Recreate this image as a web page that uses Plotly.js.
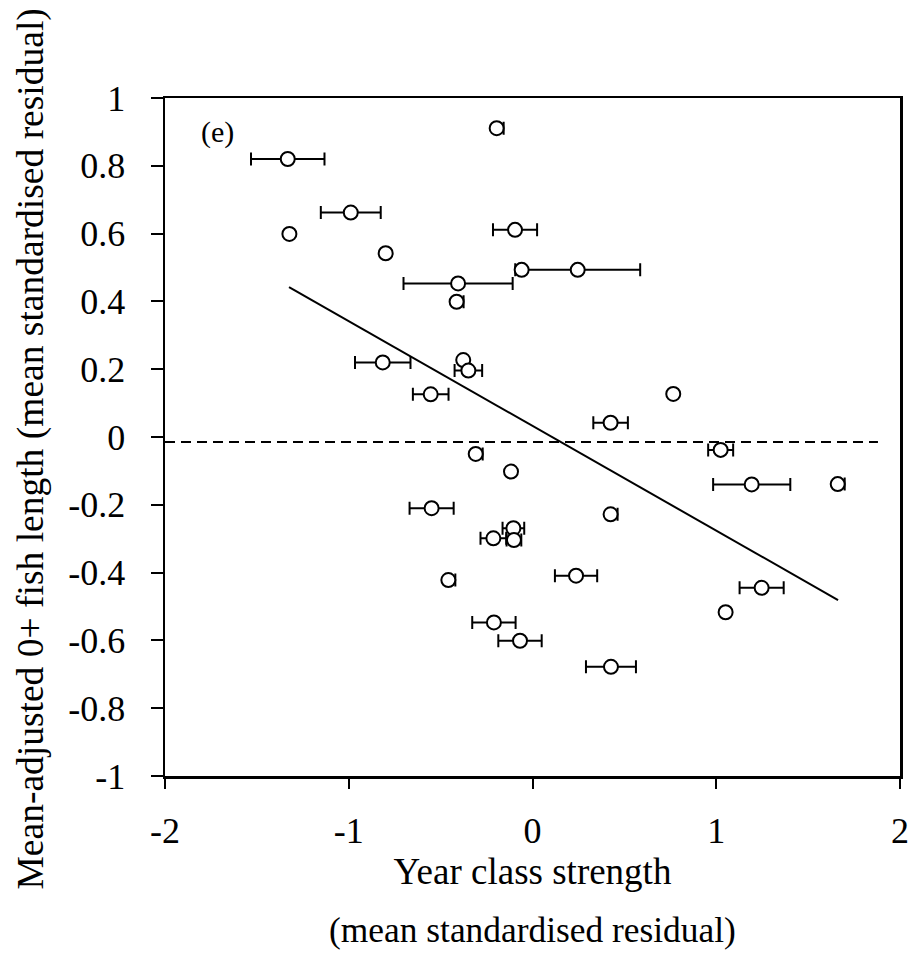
<!DOCTYPE html>
<html>
<head>
<meta charset="utf-8">
<script src="https://cdn.plot.ly/plotly-3.0.1.min.js"></script>
<style>
  html, body { margin: 0; padding: 0; background: #fff; }
  #chart { width: 914px; height: 965px; }
</style>
</head>
<body>
<div id="chart"></div>
<script>
// Year class strength vs mean-adjusted 0+ fish length, panel (e)
const yearClass = [-1.332, -0.195, -0.989, -1.323, -0.799, -0.095, -0.059, 0.246, -0.405, -0.413,
                   -0.815, -0.377, -0.349, -0.554, -0.309, -0.117, 0.425, 0.766, 1.024, 1.193,
                   1.661, -0.549, 0.425, -0.104, -0.213, -0.101, -0.458, 0.237, -0.210, -0.068,
                   0.427, 1.247, 1.051];
const fishLength = [0.820, 0.911, 0.662, 0.599, 0.542, 0.611, 0.493, 0.493, 0.453, 0.399,
                    0.220, 0.227, 0.196, 0.126, -0.050, -0.102, 0.042, 0.127, -0.038, -0.140,
                    -0.139, -0.210, -0.228, -0.269, -0.299, -0.304, -0.422, -0.409, -0.547, -0.601,
                    -0.678, -0.445, -0.517];
// Horizontal error on year class strength (upper and lower arms)
const yearClassErrPlus = [0.200, 0.038, 0.163, 0, 0, 0.120, 0, 0.340, 0.297, 0.038,
                          0.151, 0, 0.075, 0.097, 0.038, 0, 0.094, 0, 0.068, 0.210,
                          0.038, 0.120, 0.038, 0.059, 0.070, 0.040, 0.038, 0.115, 0.118, 0.118,
                          0.136, 0.120, 0];
const yearClassErrMinus = [0.200, 0.012, 0.163, 0, 0, 0.120, 0, 0.340, 0.297, 0.012,
                           0.151, 0, 0.075, 0.097, 0.012, 0, 0.094, 0, 0.068, 0.210,
                           0.012, 0.120, 0.012, 0.059, 0.070, 0.040, 0.012, 0.115, 0.118, 0.118,
                           0.136, 0.120, 0];

// Fitted regression line end points
const fitX = [-1.325, 1.663];
const fitY = [0.442, -0.481];

// Mean reference line
const refX = [-2, 1.88];
const refY = [-0.015, -0.015];

// Axis ticks
const xTickVals = [-2, -1, 0, 1, 2];
const xTickText = ['-2', '-1', '0', '1', '2'];
const yTickVals = [1, 0.8, 0.6, 0.4, 0.2, 0, -0.2, -0.4, -0.6, -0.8, -1];
const yTickText = ['1', '0.8', '0.6', '0.4', '0.2', '0', '-0.2', '-0.4', '-0.6', '-0.8', '-1'];

const FONT = 'Liberation Serif, Times New Roman, serif';

const traces = [
  {
    x: refX, y: refY, type: 'scatter', mode: 'lines',
    line: { color: '#000', width: 2, dash: '10px,6px' },
    hoverinfo: 'skip', showlegend: false
  },
  {
    x: fitX, y: fitY, type: 'scatter', mode: 'lines',
    line: { color: '#000', width: 2 },
    hoverinfo: 'skip', showlegend: false
  },
  {
    x: yearClass, y: fishLength, type: 'scatter', mode: 'markers',
    marker: { symbol: 'circle', size: 14, color: '#fff', line: { color: '#000', width: 2 } },
    error_x: {
      type: 'data', symmetric: false, array: yearClassErrPlus, arrayminus: yearClassErrMinus,
      visible: true, color: '#000', thickness: 2, width: 6.5
    },
    showlegend: false
  }
];

function axisBase(tickSize) {
  return {
    showgrid: false, zeroline: false,
    showline: true, linecolor: '#000', linewidth: 2.5, mirror: true,
    ticks: 'outside', tickcolor: '#000', tickwidth: 2,
    tickfont: { family: FONT, size: tickSize, color: '#000' }
  };
}

const layout = {
  width: 914, height: 965,
  margin: { l: 165, r: 14, t: 98, b: 189 },
  paper_bgcolor: '#fff', plot_bgcolor: '#fff',
  font: { family: FONT, color: '#000' },
  xaxis: Object.assign(axisBase(36), {
    range: [-2, 2], tickmode: 'array', tickvals: xTickVals, ticktext: xTickText,
    ticklen: 10, ticklabelstandoff: 11,
    title: { text: 'Year class strength', font: { family: FONT, size: 37, color: '#000' }, standoff: 6 }
  }),
  yaxis: Object.assign(axisBase(36), {
    range: [-1, 1], tickmode: 'array', tickvals: yTickVals, ticktext: yTickText,
    ticklen: 12, ticklabelstandoff: 18
  }),
  annotations: [
    {
      // vertical axis label, placed as rotated text so its full length fits the page
      text: 'Mean-adjusted 0+ fish length (mean standardised residual)',
      xref: 'paper', yref: 'paper', x: -0.1823, y: 0.4816,
      xanchor: 'center', yanchor: 'middle', textangle: -90, showarrow: false,
      font: { family: FONT, size: 37.5, color: '#000' }
    },
    {
      text: '(e)', xref: 'paper', yref: 'paper', x: 0.046, y: 0.95,
      xanchor: 'left', yanchor: 'middle', showarrow: false,
      font: { family: FONT, size: 30, color: '#000' }
    },
    {
      text: '(mean standardised residual)', xref: 'paper', yref: 'paper', x: 0.5, y: -0.227,
      xanchor: 'center', yanchor: 'middle', showarrow: false,
      font: { family: FONT, size: 35.4, color: '#000' }
    }
  ]
};

Plotly.newPlot('chart', traces, layout, { displayModeBar: false, staticPlot: true });
</script>
</body>
</html>
